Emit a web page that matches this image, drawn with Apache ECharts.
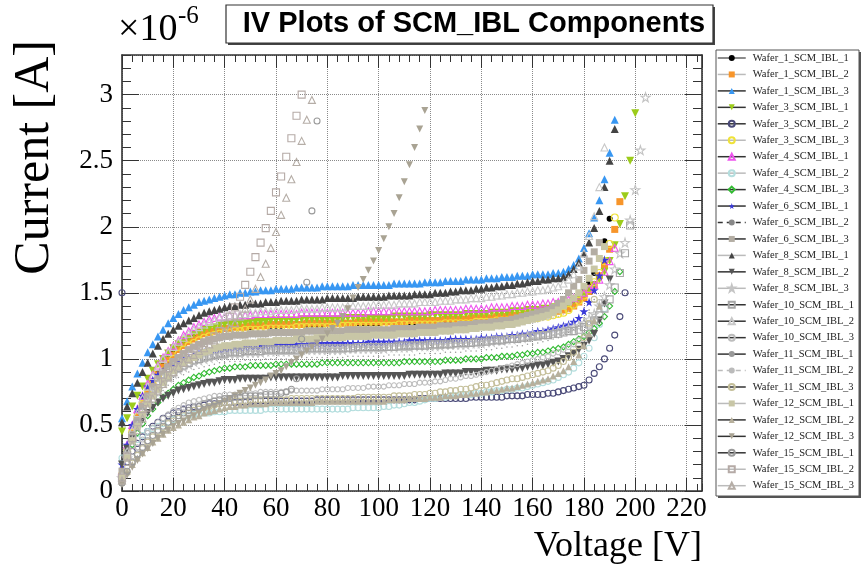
<!DOCTYPE html>
<html><head><meta charset="utf-8">
<script src="https://cdn.jsdelivr.net/npm/echarts@6/dist/echarts.min.js"></script>
<style>html,body{margin:0;padding:0;background:#fff}#c{width:861px;height:566px}</style>
</head><body><div id="c"></div>
<script>
// ---------- DATA ----------
const titleText = 'IV Plots of SCM_IBL Components';
const xTitle = 'Voltage [V]';
const yTitle = 'Current [A]';
const yScaleText = ['\u00d710', '-6'];
const voltage = [0,2,4,6,8,10,12,14,16,18,20,22,24,26,28,30,32,34,36,38,40,42,44,46,48,50,52,54,56,58,60,62,64,66,68,70,72,74,76,78,80,82,84,86,88,90,92,94,96,98,100,102,104,106,108,110,112,114,116,118,120,122,124,126,128,130,132,134,136,138,140,142,144,146,148,150,152,154,156,158,160,162,164,166,168,170,172,174,176,178,180,182,184,186,188,190,192,194,196,198,200,202,204];
const seriesNames = ['Wafer_1_SCM_IBL_1','Wafer_1_SCM_IBL_2','Wafer_1_SCM_IBL_3','Wafer_3_SCM_IBL_1','Wafer_3_SCM_IBL_2','Wafer_3_SCM_IBL_3','Wafer_4_SCM_IBL_1','Wafer_4_SCM_IBL_2','Wafer_4_SCM_IBL_3','Wafer_6_SCM_IBL_1','Wafer_6_SCM_IBL_2','Wafer_6_SCM_IBL_3','Wafer_8_SCM_IBL_1','Wafer_8_SCM_IBL_2','Wafer_8_SCM_IBL_3','Wafer_10_SCM_IBL_1','Wafer_10_SCM_IBL_2','Wafer_10_SCM_IBL_3','Wafer_11_SCM_IBL_1','Wafer_11_SCM_IBL_2','Wafer_11_SCM_IBL_3','Wafer_12_SCM_IBL_1','Wafer_12_SCM_IBL_2','Wafer_12_SCM_IBL_3','Wafer_15_SCM_IBL_1','Wafer_15_SCM_IBL_2','Wafer_15_SCM_IBL_3'];
// currents in units of 1e-6 A, one value per voltage step (starting at 0 V)
const w1_1 = [0.12,0.31,0.46,0.58,0.68,0.76,0.83,0.89,0.95,1.00,1.04,1.08,1.11,1.14,1.16,1.18,1.19,1.20,1.21,1.22,1.23,1.23,1.24,1.24,1.24,1.24,1.25,1.25,1.25,1.25,1.25,1.25,1.26,1.26,1.26,1.26,1.26,1.26,1.26,1.26,1.27,1.27,1.27,1.27,1.27,1.27,1.27,1.27,1.27,1.27,1.27,1.28,1.28,1.28,1.28,1.28,1.28,1.28,1.28,1.29,1.29,1.29,1.29,1.29,1.29,1.30,1.30,1.30,1.30,1.30,1.31,1.31,1.31,1.31,1.32,1.32,1.32,1.33,1.33,1.33,1.34,1.34,1.35,1.35,1.36,1.37,1.38,1.40,1.43,1.47,1.52,1.58,1.65,1.76,1.89,2.06];
const w1_2 = [0.10,0.30,0.45,0.57,0.67,0.75,0.82,0.88,0.94,0.99,1.03,1.07,1.10,1.13,1.15,1.17,1.19,1.20,1.21,1.22,1.23,1.23,1.24,1.24,1.24,1.25,1.25,1.25,1.25,1.26,1.26,1.26,1.26,1.26,1.26,1.26,1.27,1.27,1.27,1.27,1.27,1.27,1.27,1.27,1.27,1.27,1.28,1.28,1.28,1.28,1.28,1.28,1.28,1.28,1.28,1.28,1.29,1.29,1.29,1.29,1.29,1.29,1.29,1.30,1.30,1.30,1.30,1.30,1.31,1.31,1.31,1.31,1.31,1.32,1.32,1.32,1.33,1.33,1.33,1.34,1.34,1.34,1.35,1.35,1.35,1.36,1.37,1.38,1.40,1.43,1.46,1.51,1.56,1.63,1.71,1.83,1.98,2.19];
const w1_3 = [0.55,0.68,0.79,0.89,0.97,1.05,1.11,1.17,1.22,1.27,1.31,1.34,1.37,1.39,1.41,1.43,1.44,1.45,1.46,1.47,1.48,1.49,1.49,1.50,1.50,1.51,1.51,1.52,1.52,1.52,1.53,1.53,1.53,1.53,1.54,1.54,1.54,1.54,1.54,1.55,1.55,1.55,1.55,1.55,1.55,1.56,1.56,1.56,1.56,1.56,1.56,1.56,1.56,1.57,1.57,1.57,1.57,1.57,1.57,1.58,1.58,1.58,1.58,1.59,1.59,1.59,1.59,1.60,1.60,1.60,1.60,1.61,1.61,1.61,1.62,1.62,1.62,1.63,1.63,1.63,1.64,1.64,1.64,1.64,1.65,1.65,1.66,1.68,1.71,1.76,1.84,1.95,2.07,2.20,2.36,2.56,2.81];
const w3_1 = [0.45,0.55,0.64,0.72,0.79,0.85,0.91,0.96,1.00,1.04,1.08,1.11,1.14,1.16,1.19,1.20,1.22,1.23,1.24,1.25,1.26,1.26,1.27,1.27,1.27,1.28,1.28,1.28,1.28,1.29,1.29,1.29,1.29,1.29,1.29,1.30,1.30,1.30,1.30,1.30,1.30,1.30,1.30,1.30,1.31,1.31,1.31,1.31,1.31,1.31,1.31,1.31,1.31,1.32,1.32,1.32,1.32,1.32,1.32,1.32,1.33,1.33,1.33,1.33,1.33,1.33,1.33,1.34,1.34,1.34,1.34,1.34,1.35,1.35,1.35,1.35,1.36,1.36,1.36,1.37,1.37,1.37,1.38,1.38,1.39,1.40,1.41,1.42,1.44,1.46,1.49,1.52,1.56,1.60,1.66,1.74,1.86,2.02,2.23,2.50,2.86];
const w3_2 = [1.50,0.22,0.30,0.36,0.41,0.45,0.49,0.52,0.55,0.57,0.59,0.60,0.62,0.63,0.64,0.64,0.65,0.66,0.66,0.66,0.67,0.67,0.67,0.67,0.67,0.67,0.68,0.68,0.68,0.68,0.68,0.68,0.68,0.68,0.68,0.68,0.68,0.68,0.69,0.69,0.69,0.69,0.69,0.69,0.69,0.69,0.69,0.69,0.69,0.69,0.69,0.69,0.69,0.69,0.69,0.69,0.69,0.69,0.70,0.70,0.70,0.70,0.70,0.70,0.70,0.70,0.70,0.70,0.71,0.71,0.71,0.71,0.71,0.71,0.71,0.72,0.72,0.72,0.72,0.73,0.73,0.73,0.73,0.74,0.74,0.75,0.76,0.77,0.78,0.79,0.80,0.84,0.89,0.94,1.00,1.08,1.18,1.32,1.50];
const w3_3 = [0.12,0.30,0.44,0.56,0.66,0.74,0.80,0.86,0.91,0.96,1.00,1.04,1.07,1.10,1.12,1.14,1.16,1.17,1.18,1.19,1.20,1.20,1.21,1.21,1.22,1.22,1.22,1.22,1.23,1.23,1.23,1.23,1.23,1.23,1.24,1.24,1.24,1.24,1.24,1.24,1.24,1.24,1.24,1.25,1.25,1.25,1.25,1.25,1.25,1.25,1.25,1.25,1.25,1.25,1.26,1.26,1.26,1.26,1.26,1.26,1.26,1.26,1.26,1.27,1.27,1.27,1.27,1.27,1.27,1.28,1.28,1.28,1.28,1.29,1.29,1.29,1.29,1.30,1.30,1.30,1.31,1.31,1.32,1.32,1.33,1.34,1.35,1.37,1.41,1.44,1.48,1.53,1.58,1.65,1.74,1.87,2.07];
const w4_1 = [0.15,0.35,0.50,0.62,0.72,0.81,0.88,0.95,1.01,1.06,1.10,1.14,1.18,1.21,1.24,1.26,1.28,1.30,1.31,1.32,1.32,1.33,1.33,1.33,1.33,1.33,1.34,1.34,1.34,1.34,1.34,1.34,1.34,1.34,1.34,1.35,1.35,1.35,1.35,1.35,1.35,1.35,1.35,1.35,1.35,1.35,1.35,1.35,1.36,1.36,1.36,1.36,1.36,1.36,1.36,1.36,1.36,1.36,1.36,1.36,1.36,1.37,1.37,1.37,1.37,1.37,1.37,1.38,1.38,1.38,1.38,1.38,1.39,1.39,1.39,1.39,1.40,1.40,1.40,1.41,1.41,1.41,1.42,1.42,1.43,1.43,1.44,1.45,1.46,1.48,1.50,1.53,1.56,1.60,1.66,1.74,1.84];
const w4_2 = [0.25,0.30,0.35,0.39,0.42,0.45,0.47,0.49,0.51,0.52,0.54,0.55,0.56,0.57,0.58,0.58,0.59,0.59,0.60,0.60,0.60,0.61,0.61,0.61,0.61,0.61,0.61,0.61,0.62,0.62,0.62,0.62,0.62,0.62,0.62,0.62,0.62,0.62,0.62,0.62,0.62,0.62,0.62,0.62,0.62,0.63,0.63,0.63,0.63,0.63,0.63,0.64,0.64,0.65,0.65,0.66,0.67,0.67,0.68,0.69,0.70,0.70,0.71,0.71,0.72,0.72,0.73,0.73,0.73,0.74,0.74,0.75,0.75,0.76,0.76,0.77,0.77,0.78,0.78,0.79,0.80,0.81,0.82,0.83,0.84,0.86,0.88,0.90,0.93,0.97,1.02,1.08,1.16,1.26,1.38];
const w4_3 = [0.10,0.25,0.35,0.44,0.51,0.57,0.62,0.67,0.71,0.74,0.77,0.80,0.82,0.84,0.86,0.87,0.89,0.90,0.91,0.92,0.93,0.93,0.94,0.94,0.94,0.95,0.95,0.95,0.95,0.95,0.96,0.96,0.96,0.96,0.96,0.96,0.96,0.96,0.96,0.97,0.97,0.97,0.97,0.97,0.97,0.97,0.97,0.97,0.97,0.97,0.97,0.97,0.97,0.97,0.97,0.98,0.98,0.98,0.98,0.98,0.98,0.98,0.98,0.99,0.99,0.99,0.99,1.00,1.00,1.00,1.00,1.01,1.01,1.01,1.02,1.02,1.02,1.03,1.03,1.04,1.04,1.05,1.05,1.06,1.07,1.08,1.09,1.11,1.13,1.15,1.17,1.20,1.23,1.27,1.32,1.40,1.51,1.66];
const w6_1 = [0.20,0.35,0.50,0.62,0.72,0.79,0.84,0.88,0.91,0.94,0.96,0.98,1.00,1.01,1.03,1.04,1.05,1.06,1.06,1.07,1.08,1.08,1.09,1.09,1.09,1.10,1.10,1.10,1.10,1.10,1.11,1.11,1.11,1.11,1.11,1.11,1.11,1.12,1.12,1.12,1.12,1.12,1.12,1.12,1.12,1.12,1.12,1.12,1.13,1.13,1.13,1.13,1.13,1.13,1.13,1.13,1.14,1.14,1.14,1.14,1.14,1.14,1.14,1.14,1.15,1.15,1.15,1.15,1.15,1.15,1.16,1.16,1.16,1.17,1.17,1.17,1.18,1.18,1.19,1.19,1.20,1.21,1.21,1.22,1.23,1.24,1.25,1.26,1.28,1.31,1.36,1.43,1.52,1.63,1.75];
const w6_2 = [0.15,0.28,0.40,0.50,0.58,0.65,0.71,0.76,0.80,0.84,0.87,0.90,0.92,0.94,0.96,0.97,0.99,1.00,1.01,1.02,1.02,1.03,1.03,1.04,1.04,1.04,1.04,1.05,1.05,1.05,1.05,1.05,1.05,1.05,1.06,1.06,1.06,1.06,1.06,1.06,1.06,1.06,1.06,1.06,1.06,1.07,1.07,1.07,1.07,1.07,1.07,1.07,1.07,1.07,1.07,1.08,1.08,1.08,1.08,1.08,1.08,1.08,1.09,1.09,1.09,1.09,1.10,1.10,1.10,1.10,1.11,1.11,1.11,1.12,1.12,1.12,1.13,1.13,1.14,1.14,1.15,1.15,1.16,1.17,1.18,1.19,1.20,1.22,1.24,1.27,1.31,1.37,1.45];
const w6_3 = [0.15,0.30,0.43,0.54,0.64,0.72,0.79,0.85,0.90,0.94,0.98,1.01,1.04,1.07,1.09,1.11,1.13,1.14,1.15,1.16,1.17,1.17,1.18,1.18,1.18,1.19,1.19,1.19,1.19,1.20,1.20,1.20,1.20,1.20,1.20,1.20,1.21,1.21,1.21,1.21,1.21,1.21,1.21,1.21,1.22,1.22,1.22,1.22,1.22,1.22,1.22,1.22,1.22,1.23,1.23,1.23,1.23,1.23,1.24,1.24,1.24,1.24,1.25,1.25,1.25,1.25,1.26,1.26,1.26,1.27,1.27,1.27,1.28,1.28,1.29,1.29,1.30,1.31,1.32,1.33,1.34,1.35,1.36,1.37,1.39,1.42,1.45,1.50,1.55,1.60,1.67,1.74,1.81,1.88];
const w8_1 = [0.52,0.64,0.74,0.82,0.90,0.97,1.04,1.10,1.15,1.19,1.22,1.25,1.27,1.29,1.31,1.33,1.35,1.36,1.37,1.38,1.39,1.40,1.40,1.41,1.41,1.42,1.42,1.42,1.43,1.43,1.43,1.44,1.44,1.44,1.44,1.45,1.45,1.45,1.45,1.45,1.46,1.46,1.46,1.46,1.46,1.46,1.47,1.47,1.47,1.47,1.47,1.47,1.48,1.48,1.48,1.48,1.48,1.49,1.49,1.49,1.49,1.50,1.50,1.50,1.51,1.51,1.52,1.52,1.52,1.53,1.53,1.54,1.54,1.55,1.55,1.56,1.56,1.57,1.57,1.58,1.59,1.59,1.60,1.60,1.61,1.61,1.62,1.64,1.68,1.73,1.80,1.88,1.99,2.12,2.30,2.50,2.74];
const w8_2 = [0.20,0.32,0.41,0.48,0.54,0.59,0.63,0.67,0.70,0.72,0.74,0.76,0.77,0.78,0.79,0.80,0.81,0.82,0.82,0.83,0.84,0.84,0.84,0.85,0.85,0.85,0.85,0.85,0.85,0.86,0.86,0.86,0.86,0.86,0.86,0.86,0.86,0.86,0.86,0.86,0.86,0.86,0.86,0.87,0.87,0.87,0.87,0.87,0.87,0.87,0.87,0.87,0.87,0.87,0.87,0.87,0.88,0.88,0.88,0.88,0.88,0.88,0.88,0.89,0.89,0.89,0.89,0.90,0.90,0.90,0.90,0.91,0.91,0.91,0.92,0.92,0.92,0.93,0.93,0.94,0.94,0.95,0.95,0.96,0.97,0.98,1.00,1.02,1.04,1.07,1.10,1.14,1.19,1.29,1.42,1.60];
const w8_3 = [0.10,0.25,0.38,0.49,0.58,0.66,0.72,0.77,0.82,0.86,0.89,0.92,0.94,0.96,0.98,0.99,1.00,1.01,1.02,1.03,1.03,1.04,1.04,1.04,1.05,1.05,1.05,1.05,1.06,1.06,1.06,1.06,1.06,1.06,1.06,1.07,1.07,1.07,1.07,1.07,1.07,1.07,1.07,1.07,1.08,1.08,1.08,1.08,1.08,1.08,1.08,1.08,1.09,1.09,1.09,1.09,1.09,1.10,1.10,1.10,1.10,1.10,1.10,1.11,1.11,1.11,1.11,1.11,1.12,1.12,1.12,1.13,1.13,1.14,1.14,1.15,1.15,1.16,1.16,1.17,1.18,1.18,1.19,1.19,1.20,1.21,1.22,1.23,1.24,1.25,1.27,1.30,1.34,1.40,1.47,1.56,1.68,1.80,1.88,2.05,2.28,2.58,2.98];
const w10_1 = [0.10,0.27,0.40,0.51,0.60,0.67,0.73,0.78,0.83,0.87,0.90,0.93,0.95,0.97,0.99,1.00,1.01,1.02,1.03,1.04,1.04,1.05,1.05,1.05,1.06,1.06,1.06,1.06,1.07,1.07,1.07,1.07,1.07,1.07,1.07,1.08,1.08,1.08,1.08,1.08,1.08,1.08,1.08,1.08,1.08,1.08,1.09,1.09,1.09,1.09,1.09,1.09,1.09,1.09,1.10,1.10,1.10,1.10,1.10,1.10,1.11,1.11,1.11,1.11,1.11,1.12,1.12,1.12,1.12,1.13,1.13,1.13,1.14,1.14,1.14,1.15,1.15,1.15,1.16,1.16,1.17,1.17,1.18,1.18,1.19,1.19,1.20,1.21,1.21,1.22,1.24,1.26,1.29,1.33,1.38,1.45,1.54,1.65,1.80,2.01];
const w10_2 = [0.10,0.30,0.46,0.59,0.70,0.79,0.87,0.94,1.00,1.05,1.09,1.13,1.16,1.19,1.22,1.24,1.26,1.28,1.29,1.31,1.32,1.33,1.33,1.34,1.34,1.35,1.35,1.36,1.36,1.36,1.37,1.37,1.37,1.37,1.38,1.38,1.38,1.38,1.38,1.39,1.39,1.39,1.39,1.39,1.40,1.40,1.40,1.40,1.40,1.41,1.41,1.41,1.41,1.41,1.42,1.42,1.42,1.42,1.43,1.43,1.43,1.43,1.44,1.44,1.44,1.45,1.45,1.45,1.46,1.46,1.46,1.47,1.47,1.48,1.48,1.49,1.49,1.50,1.50,1.51,1.51,1.52,1.52,1.53,1.54,1.55,1.57,1.60,1.64,1.70,1.80,1.93,2.08,2.30,2.60];
const w10_3 = [0.08,0.18,0.26,0.33,0.39,0.44,0.48,0.52,0.55,0.58,0.61,0.63,0.65,0.67,0.68,0.69,0.70,0.71,0.72,0.72,0.73,0.73,0.73,0.74,0.74,0.74,0.74,0.75,0.75,0.75,0.75,0.75,0.75,0.76,0.76,0.76,0.76,0.76,0.76,0.77,0.77,0.77,0.77,0.77,0.78,0.78,0.78,0.78,0.79,0.79,0.79,0.79,0.80,0.80,0.80,0.81,0.81,0.81,0.82,0.82,0.82,0.83,0.83,0.84,0.85,0.85,0.86,0.87,0.87,0.88,0.89,0.90,0.91,0.92,0.93,0.94,0.95,0.96,0.97,0.98,0.99,1.00,1.01,1.02,1.04,1.05,1.07,1.09,1.11,1.14,1.18,1.24,1.32,1.43];
const w11_1 = [0.12,0.25,0.36,0.46,0.54,0.61,0.67,0.72,0.76,0.80,0.83,0.86,0.88,0.90,0.92,0.93,0.94,0.95,0.96,0.97,0.97,0.98,0.98,0.98,0.99,0.99,0.99,0.99,1.00,1.00,1.00,1.00,1.00,1.00,1.00,1.01,1.01,1.01,1.01,1.01,1.01,1.01,1.01,1.01,1.02,1.02,1.02,1.02,1.02,1.02,1.02,1.02,1.03,1.03,1.03,1.03,1.03,1.03,1.04,1.04,1.04,1.04,1.04,1.05,1.05,1.05,1.05,1.06,1.06,1.06,1.07,1.07,1.07,1.08,1.08,1.09,1.09,1.10,1.10,1.11,1.11,1.12,1.13,1.14,1.15,1.16,1.18,1.20,1.22,1.25,1.29,1.35,1.43];
const w11_2 = [0.10,0.26,0.40,0.52,0.62,0.70,0.77,0.83,0.88,0.93,0.97,1.00,1.03,1.05,1.07,1.09,1.10,1.11,1.12,1.13,1.14,1.14,1.15,1.15,1.15,1.16,1.16,1.16,1.16,1.17,1.17,1.17,1.17,1.17,1.17,1.17,1.17,1.18,1.18,1.18,1.18,1.18,1.18,1.18,1.18,1.18,1.18,1.19,1.19,1.19,1.19,1.19,1.19,1.19,1.19,1.20,1.20,1.20,1.20,1.20,1.20,1.21,1.21,1.21,1.21,1.22,1.22,1.22,1.22,1.23,1.23,1.23,1.24,1.24,1.24,1.25,1.25,1.26,1.26,1.27,1.27,1.28,1.29,1.30,1.31,1.32,1.34,1.36,1.39,1.43,1.48,1.55,1.64,1.76];
const w11_3 = [0.06,0.14,0.21,0.27,0.32,0.37,0.41,0.45,0.48,0.51,0.53,0.55,0.57,0.59,0.61,0.62,0.63,0.64,0.65,0.66,0.67,0.67,0.68,0.68,0.68,0.69,0.69,0.69,0.69,0.69,0.69,0.69,0.69,0.70,0.70,0.70,0.70,0.70,0.70,0.70,0.70,0.70,0.70,0.70,0.70,0.70,0.71,0.71,0.71,0.71,0.71,0.71,0.71,0.72,0.72,0.72,0.72,0.73,0.73,0.73,0.74,0.74,0.75,0.75,0.76,0.76,0.77,0.77,0.78,0.79,0.80,0.80,0.81,0.82,0.83,0.84,0.85,0.85,0.86,0.87,0.88,0.89,0.90,0.91,0.93,0.95,0.98,1.01,1.05,1.10,1.16,1.27,1.45];
const w12_1 = [0.10,0.25,0.38,0.49,0.58,0.66,0.72,0.77,0.82,0.87,0.91,0.94,0.97,0.99,1.01,1.03,1.05,1.06,1.08,1.09,1.10,1.10,1.11,1.11,1.12,1.12,1.12,1.13,1.13,1.13,1.14,1.14,1.14,1.14,1.15,1.15,1.15,1.15,1.16,1.16,1.16,1.16,1.16,1.16,1.17,1.17,1.17,1.17,1.17,1.18,1.18,1.18,1.18,1.18,1.19,1.19,1.19,1.19,1.20,1.20,1.20,1.20,1.21,1.21,1.21,1.22,1.22,1.22,1.23,1.23,1.24,1.24,1.24,1.25,1.25,1.26,1.26,1.27,1.28,1.29,1.30,1.31,1.32,1.33,1.35,1.37,1.40,1.43,1.46,1.50,1.55,1.61,1.68,1.76,1.85];
const w12_2 = [0.08,0.15,0.20,0.25,0.29,0.33,0.37,0.40,0.43,0.46,0.48,0.50,0.52,0.54,0.56,0.57,0.59,0.60,0.61,0.62,0.63,0.64,0.64,0.65,0.65,0.66,0.66,0.66,0.66,0.67,0.67,0.67,0.67,0.67,0.67,0.67,0.67,0.67,0.68,0.68,0.68,0.68,0.68,0.68,0.68,0.68,0.68,0.68,0.68,0.68,0.68,0.68,0.69,0.69,0.69,0.69,0.70,0.70,0.70,0.70,0.71,0.71,0.71,0.72,0.72,0.72,0.73,0.73,0.74,0.74,0.75,0.75,0.76,0.76,0.77,0.78,0.78,0.79,0.80,0.81,0.82,0.83,0.84,0.85,0.87,0.89,0.91,0.94,0.98,1.03,1.10,1.19,1.29,1.40];
const w12_3 = [0.05,0.12,0.18,0.23,0.28,0.32,0.36,0.40,0.43,0.46,0.49,0.51,0.53,0.55,0.57,0.59,0.61,0.63,0.64,0.66,0.68,0.70,0.72,0.74,0.76,0.78,0.80,0.82,0.84,0.87,0.89,0.91,0.94,0.97,1.00,1.03,1.06,1.09,1.12,1.15,1.19,1.23,1.27,1.32,1.38,1.46,1.54,1.60,1.67,1.74,1.82,1.91,2.00,2.10,2.22,2.34,2.47,2.60,2.74,2.88];
const w15_1 = [0.06,0.15,0.22,0.28,0.33,0.38,0.42,0.46,0.49,0.52,0.55,0.57,0.59,0.61,0.63,0.64,0.66,0.67,0.68,0.69,0.70,0.70,0.71,0.71,0.72,0.72,0.72,0.72,0.73,0.73,0.73,0.74,0.75,0.77,0.85,1.15,1.58,2.12,2.80];
const w15_2 = [0.10,0.26,0.40,0.52,0.62,0.70,0.77,0.83,0.88,0.93,0.97,1.00,1.03,1.06,1.08,1.10,1.12,1.14,1.17,1.21,1.26,1.32,1.39,1.47,1.56,1.66,1.77,1.88,1.99,2.12,2.26,2.38,2.53,2.67,2.84,3.00];
const w15_3 = [0.08,0.22,0.35,0.46,0.55,0.63,0.70,0.76,0.81,0.86,0.90,0.94,0.97,1.00,1.03,1.06,1.08,1.11,1.14,1.17,1.20,1.23,1.27,1.32,1.38,1.45,1.53,1.62,1.72,1.84,1.96,2.09,2.22,2.36,2.49,2.65,2.81,2.96];
const currents = [w1_1,w1_2,w1_3,w3_1,w3_2,w3_3,w4_1,w4_2,w4_3,w6_1,w6_2,w6_3,w8_1,w8_2,w8_3,w10_1,w10_2,w10_3,w11_1,w11_2,w11_3,w12_1,w12_2,w12_3,w15_1,w15_2,w15_3];
const xTicks = {min: 0, max: 226, step: 20, minorStep: 4};
const yTicks = {min: 0, max: 3.3, step: 0.5, minorStep: 0.1};

// ---------- STYLE ----------
const STAR = 'path://M50,0L61,35L98,35L68,57L79,91L50,70L21,91L32,57L2,35L39,35Z';
// [color, symbol, filled, size, rotate, legendLineColor, dashed]
const styles = [
  ['#000000','circle',1,6,0,'#666',0],
  ['#f7952a','rect',1,7,0,'#bbb',0],
  ['#3897f2','triangle',1,8,0,'#333',0],
  ['#9ccc1a','triangle',1,8,180,'#333',0],
  ['#4a4a78','circle',0,6,0,'#333',0],
  ['#efe23a','circle',0,7,0,'#bbb',0],
  ['#ee55ee','triangle',0,7,0,'#333',0],
  ['#b4dede','circle',0,6,0,'#bbb',0],
  ['#33bb33','diamond',0,6,0,'#333',0],
  ['#3a3ad8',STAR,1,9,0,'#333',0],
  ['#888888','circle',1,1.5,0,'#333',1],
  ['#b3ada3','rect',1,7,0,'#333',0],
  ['#444444','triangle',1,8,0,'#bbb',0],
  ['#555555','triangle',1,8,180,'#333',0],
  ['#c4c4c4',STAR,0,9,0,'#bbb',0],
  ['#a6a6a6','rect',0,7,0,'#333',0],
  ['#c8c8c8','triangle',0,7,0,'#333',0],
  ['#bdbdbd','circle',0,5,0,'#333',0],
  ['#999999','circle',1,1.5,0,'#333',0],
  ['#bbbbbb','circle',1,1.5,0,'#bbb',1],
  ['#c4bf9a','circle',0,6,0,'#333',0],
  ['#c8c6a6','rect',1,7,0,'#bbb',0],
  ['#b7b09c','triangle',1,7,0,'#333',0],
  ['#a9a393','triangle',1,7,180,'#333',0],
  ['#9a9a9a','circle',0,6,0,'#333',0],
  ['#b5aaa6','rect',0,7,0,'#bbb',0],
  ['#b5ada6','triangle',0,7,0,'#bbb',0]
];
const SERIF = 'Liberation Serif';

const series = seriesNames.map((name, i) => {
  const s = styles[i];
  return {
    name, type: 'line', xAxisIndex: 0, yAxisIndex: 0,
    data: currents[i].map((c, k) => [voltage[k], c]),
    symbol: s[1], symbolSize: s[3], symbolRotate: s[4], showSymbol: true, showAllSymbol: true,
    lineStyle: {opacity: 0, width: 0},
    itemStyle: s[2] ? {color: s[0]} : {color: 'rgba(255,255,255,0)', borderColor: s[0], borderWidth: 1.1},
    emphasis: {disabled: true}, silent: true, animation: false
  };
});

function mkAxis(pos, ext, major, len, extra) {
  const a = {
    type: 'value', min: ext.min, max: ext.max, interval: major ? ext.step : ext.minorStep,
    position: pos, scale: false,
    axisLine: {show: major, onZero: false, lineStyle: {color: '#333', width: 1.6}},
    axisTick: {show: true, inside: true, length: len, lineStyle: {color: '#333', width: 1}},
    axisLabel: {show: false},
    splitLine: {show: false},
    minorTick: {show: false}
  };
  return Object.assign(a, extra || {});
}
const labelStyle = {fontFamily: SERIF, fontSize: 27, color: '#000', showMaxLabel: false};
const xAxis = [
  mkAxis('bottom',xTicks,true,13,{
    axisLabel: Object.assign({show:true, margin:4}, labelStyle),
    splitLine: {show:true, lineStyle:{color:'#8a8a8a', type:'dotted', width:1}}}),
  mkAxis('top',xTicks,true,13),
  mkAxis('bottom',xTicks,false,7),
  mkAxis('top',xTicks,false,7)
];
const yAxis = [
  mkAxis('left',yTicks,true,17,{
    axisLabel: Object.assign({show:true, margin:9}, labelStyle),
    splitLine: {show:true, lineStyle:{color:'#8a8a8a', type:'dotted', width:1}}}),
  mkAxis('right',yTicks,true,17),
  mkAxis('left',yTicks,false,9),
  mkAxis('right',yTicks,false,9)
];
const grid = {left: 122, right: 159, top: 55, bottom: 75, containLabel: false};

const legend = {
  orient: 'vertical', left: 717, top: 52, padding: 0, itemGap: 4.45,
  itemWidth: 28, itemHeight: 7.5, selectedMode: false,
  textStyle: {fontFamily: SERIF, fontSize: 10.5, color: '#222', lineHeight: 12, padding: [0,0,0,2]},
  data: seriesNames.map((n, i) => ({
    name: n,
    lineStyle: {color: styles[i][5], width: 1.5, opacity: 1, type: styles[i][6] ? [5,4] : 'solid'}
  }))
};

const graphic = [
  {type:'rect', shape:{x:228, y:7, width:487, height:38}, style:{fill:'#444'}, z:0},
  {type:'rect', shape:{x:226, y:5, width:487, height:38}, style:{fill:'#fff', stroke:'#333', lineWidth:1.2}, z:1},
  {type:'text', x:474, y:24, style:{text:titleText, fontFamily:'Liberation Sans', fontWeight:'bold', fontSize:29, fill:'#000', align:'center', verticalAlign:'middle'}, z:2},
  {type:'rect', shape:{x:718, y:52, width:143, height:446}, style:{fill:'#555'}, z:0},
  {type:'rect', shape:{x:716, y:50, width:143, height:446}, style:{fill:'#fff', stroke:'#555', lineWidth:1}, z:1},
  {type:'text', x:118, y:30, style:{text:yScaleText[0], fontFamily:SERIF, fontSize:38, fill:'#000', align:'left', verticalAlign:'middle'}, z:2},
  {type:'text', x:178, y:16, style:{text:yScaleText[1], fontFamily:SERIF, fontSize:25, fill:'#000', align:'left', verticalAlign:'middle'}, z:2},
  {type:'text', x:702, y:547, style:{text:xTitle, fontFamily:SERIF, fontSize:36, fill:'#000', align:'right', verticalAlign:'middle'}, z:2},
  {type:'text', x:35, y:40, rotation:Math.PI/2, style:{text:yTitle, fontFamily:SERIF, fontSize:50, fill:'#000', align:'right', verticalAlign:'middle'}, z:2}
];

const chart = echarts.init(document.getElementById('c'), null, {renderer: 'canvas'});
chart.setOption({
  animation: false, backgroundColor: '#fff',
  grid, xAxis, yAxis, legend, graphic, series
});
</script></body></html>
